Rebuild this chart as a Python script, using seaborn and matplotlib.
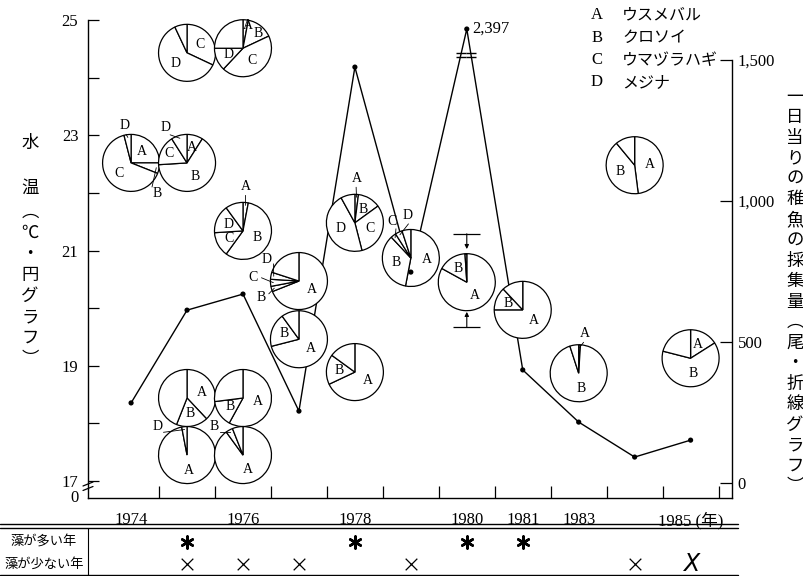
import numpy as np
import pandas as pd
import seaborn as sns
import matplotlib
matplotlib.use("Agg")
import matplotlib.pyplot as plt
import matplotlib.transforms as mtransforms
from matplotlib.patches import Wedge
from matplotlib.lines import Line2D
from matplotlib.ticker import NullLocator

# ---------------- data ----------------
# survey years (no survey in 1982)
years = [1974, 1975, 1976, 1977, 1978, 1979, 1980, 1981, 1983, 1984, 1985]
year_ticklabels = ['1974', '', '1976', '', '1978', '', '1980', '1981', '1983', '', '1985 (年)']
# juveniles caught per day (line, right axis)
catch_per_day = [284, 613, 670, 255, 1475, 748, 2397, 401, 216, 92, 152]

species = ['A', 'B', 'C', 'D']
species_names = ['ウスメバル', 'クロソイ', 'ウマヅラハギ', 'メジナ']

# species composition pies: year, water temperature (deg C) and shares (%)
pie_year = [1974, 1975, 1975, 1976, 1976, 1977, 1977, 1978, 1978, 1979,
            1980, 1981, 1983, 1984, 1985, 1975, 1976, 1975, 1976]
pie_temp = [22.52, 22.52, 24.43, 24.51, 21.34, 20.47, 19.46, 21.48, 18.89, 20.87,
            20.45, 19.97, 18.87, 22.48, 19.13, 18.44, 18.44, 17.45, 17.45]
share_A = [25, 9, 0, 3, 3, 69, 71, 2, 68, 53, 83, 75, 1, 48, 16, 38, 58, 97, 90]
share_B = [6, 65, 0, 15, 57, 3, 19, 13, 17, 35, 16, 13, 94, 41, 63, 18, 15, 0, 4]
share_C = [65, 17, 32, 44, 14, 4, 0, 31, 0, 3, 0, 0, 0, 0, 0, 0, 0, 0, 0]
share_D = [4, 9, 61, 13, 16, 4, 0, 46, 0, 4, 0, 0, 0, 0, 0, 0, 0, 3, 0]

# 1980 water temperature range
temp_range_1980 = [19.67, 21.29]

# years with much / little seaweed
algae_many_years = [1975, 1978, 1980, 1981]
algae_few_years = [1975, 1976, 1977, 1979, 1984, 1985]

# catch axis is broken above this value
BREAK_AT = 1500
BREAK_COMPRESS = 0.1226

# ---------------- style ----------------
sns.set_theme(style="ticks")
plt.rcParams['font.family'] = ['Liberation Serif', 'Noto Sans CJK JP', 'DejaVu Sans']
plt.rcParams.update({'axes.edgecolor': 'black', 'text.color': 'black',
                     'xtick.color': 'black', 'ytick.color': 'black',
                     'axes.linewidth': 1.0})
CJK = ['Noto Sans CJK JP', 'DejaVu Sans']

W, H = 804, 576
fig = plt.figure(figsize=(W / 100, H / 100), dpi=100)
fig.patch.set_facecolor('white')


def fx(px):
    return px / W


def fy(py):
    return 1 - py / H


L, R, B, T = 88, 732, 498, 20
ax = fig.add_axes([fx(L), fy(B), (R - L) / W, (B - T) / H])
ax.set_facecolor('white')
ax2 = ax.twinx()

slot = {y: i for i, y in enumerate(years)}
x_line = np.arange(len(years))

XLIM = (-0.77, 10.74)
TLIM = (16.705, 25.0)

# ---------------- catch line ----------------
df = pd.DataFrame({'slot': x_line, 'catch': catch_per_day})
sns.lineplot(data=df, x='slot', y='catch', ax=ax2, color='black', lw=1.0,
             sort=False, zorder=2, legend=False)
sns.scatterplot(data=df, x='slot', y='catch', ax=ax2, color='black', s=14,
                edgecolor='none', zorder=6, legend=False)
ax2.set_xlabel('')
ax2.set_ylabel('')
ax.set_xlabel('')
ax.set_ylabel('')


def fwd(v):
    v = np.asarray(v, dtype=float)
    return np.where(v <= BREAK_AT, v, BREAK_AT + (v - BREAK_AT) * BREAK_COMPRESS)


def inv(u):
    u = np.asarray(u, dtype=float)
    return np.where(u <= BREAK_AT, u, BREAK_AT + (u - BREAK_AT) / BREAK_COMPRESS)


ax2.set_yscale('function', functions=(fwd, inv))
CLIM = (-53.2, float(inv(1642.0)))

# break marks on the segments that cross the axis break
u = fwd(catch_per_day)
u_mark = BREAK_AT + 18
for i in range(len(years) - 1):
    lo, hi = u[i], u[i + 1]
    if (lo - u_mark) * (hi - u_mark) < 0:
        t = (u_mark - lo) / (hi - lo)
        xm = x_line[i] + t * (x_line[i + 1] - x_line[i])
        for du in (-7, 7):
            ax2.plot([xm], [float(inv(u_mark + du))], marker='_', ms=7, mew=1.0,
                     color='black', zorder=4)

peak = int(np.argmax(catch_per_day))
ax2.annotate(f'{catch_per_day[peak]:,}', xy=(x_line[peak], catch_per_day[peak]),
             xytext=(4, 0), textcoords='offset points', ha='left', va='center',
             fontsize=12, zorder=6)

# ---------------- pies ----------------
R_IN = 0.285
shares = np.array([share_A, share_B, share_C, share_D]).T
other = 100 - shares.sum(axis=1)

# label placement: (clockwise angle from top, distance in radii, pointer line)
label_pos = {
    (0, 'B'): (139, 1.42, True), (0, 'D'): (350, 1.32, True),
    (1, 'C'): (297, 0.72, False), (1, 'D'): (329, 1.45, True),
    (3, 'A'): (12, 0.8, False), (3, 'B'): (45, 0.75, False),
    (4, 'A'): (4, 1.55, True),
    (5, 'B'): (247, 1.45, True), (5, 'C'): (275, 1.62, True), (5, 'D'): (304, 1.38, True),
    (7, 'A'): (2, 1.55, True),
    (9, 'C'): (333, 1.45, True), (9, 'D'): (356, 1.5, True),
    (12, 'A'): (9, 1.4, True),
    (17, 'D'): (314, 1.45, True),
    (18, 'B'): (315, 1.42, True),
}


def polar(angle_cw, dist):
    th = np.deg2rad(90 - angle_cw)
    return dist * R_IN * np.cos(th), dist * R_IN * np.sin(th)


for i in range(len(pie_year)):
    trans = fig.dpi_scale_trans + mtransforms.ScaledTranslation(
        slot[pie_year[i]], pie_temp[i], ax.transData)
    start = 0.0
    parts = list(zip(species, shares[i])) + [('', other[i])]
    for sp, pct in parts:
        if pct <= 0:
            continue
        end = start + pct * 3.6
        ax2.add_patch(Wedge((0, 0), R_IN, 90 - end, 90 - start, transform=trans,
                            facecolor='white', edgecolor='black', lw=0.9,
                            zorder=3, clip_on=False))
        if sp:
            mid = (start + end) / 2
            ang, dist, ptr = label_pos.get((i, sp), (mid, 0.55, False))
            tx, ty = polar(ang, dist)
            ax2.text(tx, ty, sp, transform=trans, ha='center', va='center',
                     fontsize=10, zorder=5, clip_on=False)
            if ptr:
                x0, y0 = polar(ang, dist - 0.3)
                x1, y1 = polar(mid, 0.9)
                ax2.add_line(Line2D([x0, x1], [y0, y1], transform=trans,
                                    color='black', lw=0.6, zorder=5, clip_on=False))
        start = end

# 1980 temperature range markers
s80 = slot[1980]
ax.hlines(temp_range_1980, s80 - 0.24, s80 + 0.24, color='black', lw=0.9)
for t, off in zip(temp_range_1980, (11, -11)):
    ax.annotate('', xy=(s80, t), xytext=(0, off), textcoords='offset points',
                arrowprops=dict(arrowstyle='<|-', color='black', lw=0.8,
                                mutation_scale=6, shrinkA=0, shrinkB=0))

# ---------------- axes ----------------
ax.set_xlim(*XLIM)
ax.set_ylim(*TLIM)
ax2.set_ylim(*CLIM)

ax.set_xticks(x_line)
ax.set_xticklabels(year_ticklabels)
ax.set_xticks(x_line + 0.5, minor=True)
ax.tick_params(axis='x', which='major', length=0, pad=10, labelsize=12)
ax.tick_params(axis='x', which='minor', direction='in', length=9, width=0.9, bottom=True)

temps = np.arange(17, 26)
ax.set_yticks(temps)
ax.set_yticklabels([str(t) if t % 2 == 1 else '' for t in temps])
ax.tick_params(axis='y', direction='in', length=8, width=0.9, pad=7, labelsize=12, left=True)
ax.yaxis.set_minor_locator(NullLocator())

ax2.set_yticks([0, 500, 1000, 1500])
ax2.set_yticklabels(['0', '500', '1,000', '1,500'])
ax2.yaxis.set_minor_locator(NullLocator())
ax2.tick_params(axis='y', direction='in', length=9, width=0.9, pad=4, labelsize=12, right=True)

ax.spines['top'].set_visible(False)
ax.spines['right'].set_visible(False)
for side in ('top', 'left', 'bottom'):
    ax2.spines[side].set_visible(False)
ax2.spines['right'].set_bounds(CLIM[0], BREAK_AT)

# "0" below 17 and the axis break mark
ax.annotate('0', xy=(0, 17), xycoords=ax.get_yaxis_transform(), xytext=(-7, -12),
            textcoords='offset points', ha='right', va='center', fontsize=12)
brk = fig.dpi_scale_trans + mtransforms.ScaledTranslation(0, 16.87, ax.get_yaxis_transform())
for dy in (0.0, 0.045):
    ax.add_line(Line2D([-0.05, 0.05], [-0.02 + dy, 0.02 + dy], transform=brk,
                       color='black', lw=0.9, clip_on=False))

# ---------------- legend ----------------
for i, (sp, name) in enumerate(zip(species, species_names)):
    ypx = 15 + i * 22.5
    fig.text(fx(597), fy(ypx), sp, ha='center', va='center', fontsize=12)
    fig.text(fx(622), fy(ypx), name, ha='left', va='center', fontsize=11.5, family=CJK)

# ---------------- vertical axis titles ----------------
left_title = ['水', '温', '︵', '℃', '・', '円', 'グ', 'ラ', 'フ', '︶']
left_y = [143, 188] + list(np.linspace(212, 359, 8))
for ch, ypx in zip(left_title, left_y):
    fig.text(fx(30), fy(ypx), ch, ha='center', va='center', fontsize=12.5, family=CJK)

right_title = list('一日当りの稚魚の採集量') + ['︵', '尾', '・', '折', '線', 'グ', 'ラ', 'フ', '︶']
right_y = np.linspace(97, 486, len(right_title))
for ch, ypx in zip(right_title, right_y):
    fig.text(fx(795), fy(ypx), ch, ha='center', va='center', fontsize=12.5, family=CJK)

# ---------------- seaweed table ----------------
for ypx in (523.5, 527.5):
    fig.add_artist(Line2D([0, fx(738)], [fy(ypx)] * 2, color='black', lw=1.0))
fig.add_artist(Line2D([0, fx(738)], [fy(575)] * 2, color='black', lw=1.0))
fig.add_artist(Line2D([fx(88)] * 2, [fy(527.5), fy(575)], color='black', lw=0.8))

row_many, row_few = 542, 564
fig.text(fx(44), fy(row_many), '藻が多い年', ha='center', va='center', fontsize=9.5, family=CJK)
fig.text(fx(44), fy(row_few), '藻が少ない年', ha='center', va='center', fontsize=9.5, family=CJK)

tb = mtransforms.blended_transform_factory(ax.transData, fig.transFigure)
ax.scatter([slot[y] for y in algae_many_years], [fy(row_many)] * len(algae_many_years),
           marker=(6, 2, 0), s=75, linewidths=1.8, color='black', transform=tb,
           clip_on=False, zorder=5)
few_x = [slot[y] for y in algae_few_years]
ax.scatter(few_x[:-1], [fy(row_few)] * (len(few_x) - 1), marker='x', s=70,
           linewidths=0.9, color='black', transform=tb, clip_on=False, zorder=5)
ax.text(few_x[-1], fy(row_few), 'X', transform=tb, ha='center', va='center',
        fontsize=17, fontstyle='italic', family=['DejaVu Sans'])

ax.set_xlim(*XLIM)
ax.set_ylim(*TLIM)
ax2.set_ylim(*CLIM)

fig.savefig('out.png', dpi=100, facecolor='white')
